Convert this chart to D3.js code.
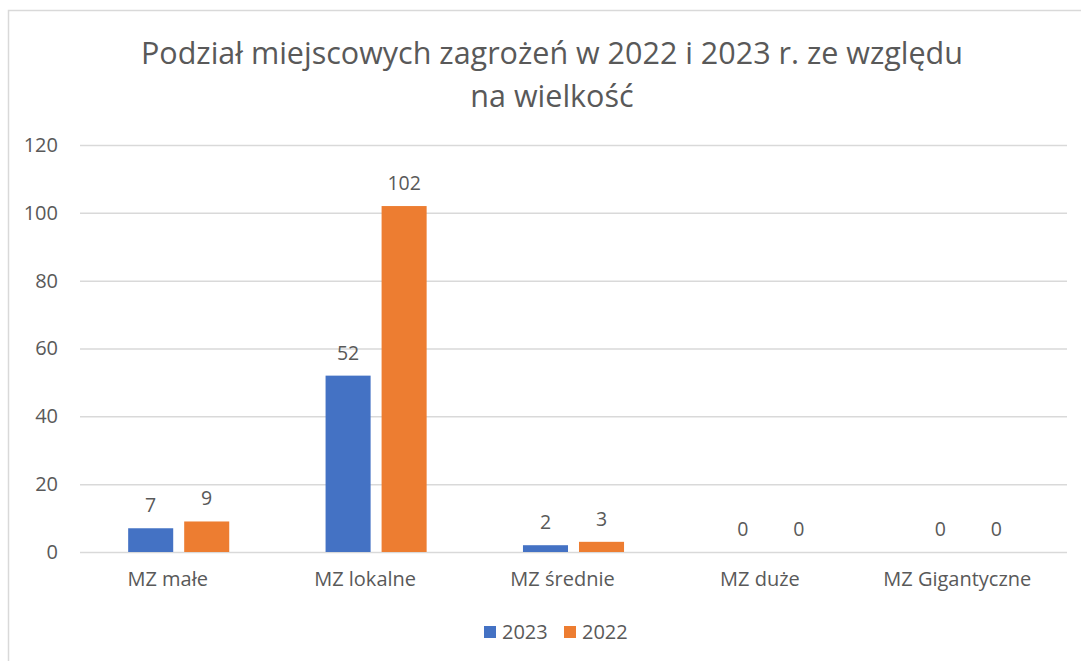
<!DOCTYPE html>
<html>
<head>
<meta charset="utf-8">
<script src="https://cdn.jsdelivr.net/npm/d3@7"></script>
<style>
  body { margin: 0; background: #fff; }
  svg text { font-family: "Open Sans", "Noto Sans", sans-serif; fill: #595959; }
</style>
</head>
<body>
<svg id="chart" width="1081" height="661"></svg>
<script>
const categories = ["MZ małe", "MZ lokalne", "MZ średnie", "MZ duże", "MZ Gigantyczne"];
const seriesNames = ["2023", "2022"];
const values2023 = [7, 52, 2, 0, 0];
const values2022 = [9, 102, 3, 0, 0];
const yTicks = [0, 20, 40, 60, 80, 100, 120];
const titleLines = ["Podział miejscowych zagrożeń w 2022 i 2023 r. ze względu", "na wielkość"];

const colors = { "2023": "#4472C4", "2022": "#ED7D31" };
const data = categories.map((c, i) => ({ cat: c, "2023": values2023[i], "2022": values2022[i] }));

const svg = d3.select("#chart");
const plot = { left: 80, right: 1067, top: 145, bottom: 552 };

// outer chart border (cropped at right and bottom)
svg.append("rect")
    .attr("x", 8.5).attr("y", 10.5)
    .attr("width", 1100).attr("height", 700)
    .attr("fill", "none")
    .attr("stroke", "#d9d9d9")
    .attr("stroke-width", 1.5);

// title
svg.append("text")
    .attr("text-anchor", "middle")
    .attr("font-size", 30.5)
    .selectAll("tspan")
    .data(titleLines)
    .join("tspan")
    .attr("x", 552)
    .attr("y", (d, i) => 64 + i * 43)
    .text(d => d);

const y = d3.scaleLinear().domain([0, 120]).range([plot.bottom, plot.top]);

const x0 = d3.scaleBand()
    .domain(categories)
    .range([plot.left, plot.right])
    .paddingInner(0.488)
    .paddingOuter(0.244);

const x1 = d3.scaleBand()
    .domain(seriesNames)
    .range([0, x0.bandwidth()])
    .paddingInner(0.196);

// gridlines
const yAxis = svg.append("g")
    .attr("transform", `translate(${plot.left},0)`)
    .call(d3.axisLeft(y).tickValues(yTicks).tickSize(-(plot.right - plot.left)).tickPadding(22));
yAxis.select(".domain").remove();
yAxis.selectAll(".tick line").attr("stroke", "#d9d9d9").attr("stroke-width", 1.5);
yAxis.selectAll(".tick text").attr("font-size", 20).attr("fill", "#595959");

// bars
const groups = svg.append("g").selectAll("g")
    .data(data)
    .join("g")
    .attr("transform", d => `translate(${x0(d.cat)},0)`);

groups.selectAll("rect")
    .data(d => seriesNames.map(s => ({ s, v: d[s] })))
    .join("rect")
    .attr("x", d => x1(d.s))
    .attr("y", d => y(d.v))
    .attr("width", x1.bandwidth())
    .attr("height", d => plot.bottom - y(d.v))
    .attr("fill", d => colors[d.s]);

groups.selectAll("text")
    .data(d => seriesNames.map(s => ({ s, v: d[s] })))
    .join("text")
    .attr("x", d => x1(d.s) + x1.bandwidth() / 2)
    .attr("y", d => y(d.v) - 16)
    .attr("text-anchor", "middle")
    .attr("font-size", 19.5)
    .text(d => d.v);

// category axis
const xAxis = svg.append("g")
    .attr("transform", `translate(0,${plot.bottom})`)
    .call(d3.axisBottom(x0).tickSize(0).tickPadding(20));
xAxis.select(".domain").remove();
xAxis.selectAll(".tick text").attr("font-size", 20).attr("fill", "#595959").attr("dx", -11);

// legend
const legend = svg.append("g").attr("transform", "translate(484,626)");
const legendX = d3.scaleOrdinal().domain(seriesNames).range([0, 80]);
const item = legend.selectAll("g")
    .data(seriesNames)
    .join("g")
    .attr("transform", d => `translate(${legendX(d)},0)`);
item.append("rect")
    .attr("width", 12).attr("height", 12)
    .attr("fill", d => colors[d]);
item.append("text")
    .attr("x", 18).attr("y", 12.5)
    .attr("font-size", 20)
    .text(d => d);
</script>
</body>
</html>
